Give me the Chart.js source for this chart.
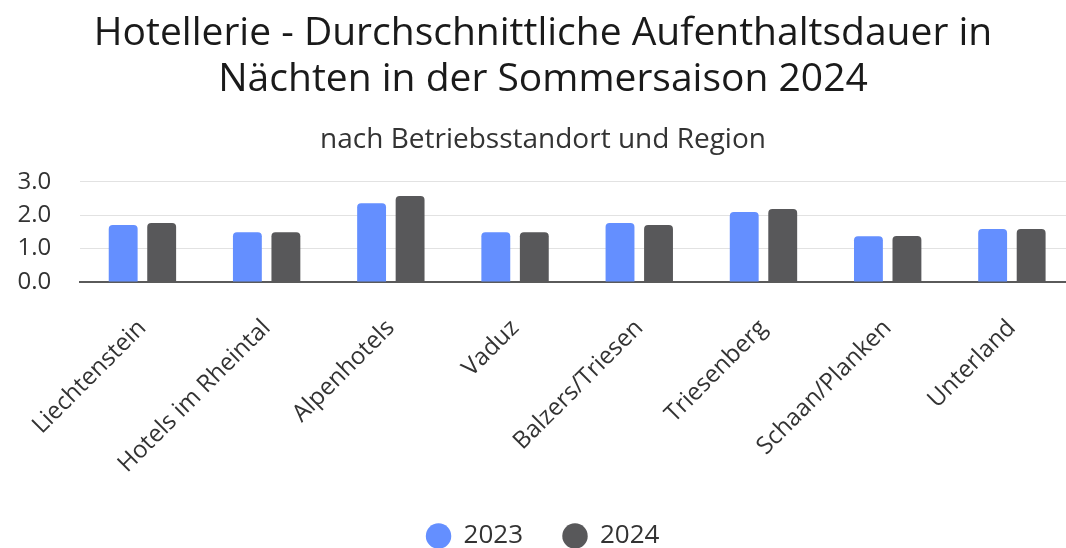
<!DOCTYPE html>
<html lang="de">
<head>
<meta charset="utf-8">
<script src="https://cdn.jsdelivr.net/npm/chart.js@4.4.1/dist/chart.umd.min.js"></script>
<style>
  html, body { margin: 0; padding: 0; overflow: hidden; background: #fff; }
  #wrap { position: absolute; left: 0; top: 0; width: 1086px; height: 548px; overflow: hidden; }
</style>
</head>
<body>
<div id="wrap"><canvas id="chart" width="1086" height="559"></canvas></div>
<script>
const categories = [
  "Liechtenstein",
  "Hotels im Rheintal",
  "Alpenhotels",
  "Vaduz",
  "Balzers/Triesen",
  "Triesenberg",
  "Schaan/Planken",
  "Unterland",
];

const values2023 = [1.71, 1.49, 2.36, 1.49, 1.77, 2.10, 1.37, 1.59];
const values2024 = [1.77, 1.49, 2.58, 1.49, 1.71, 2.19, 1.38, 1.59];

const yTicks = [0, 1, 2, 3];

const titleLines = [
  "Hotellerie - Durchschnittliche Aufenthaltsdauer in",
  "Nächten in der Sommersaison 2024",
];
const subtitleText = "nach Betriebsstandort und Region";

const FONT = "'Open Sans', sans-serif";

const ctx = document.getElementById("chart").getContext("2d");

const data = {
  labels: categories,
  datasets: [
    {
      label: "2023",
      data: values2023,
      backgroundColor: "#648fff",
      borderRadius: 4,
      borderSkipped: "start",
    },
    {
      label: "2024",
      data: values2024,
      backgroundColor: "#58585a",
      borderRadius: 4,
      borderSkipped: "start",
    },
  ],
};

const config = {
  type: "bar",
  data: data,
  options: {
    responsive: false,
    animation: false,
    categoryPercentage: 0.62,
    barPercentage: 0.75,
    layout: {
      padding: { top: 0, right: 12, bottom: 0, left: 12 },
    },
    plugins: {
      title: {
        display: true,
        text: titleLines,
        color: "#1a1a1a",
        font: { family: FONT, size: 39, weight: "normal", lineHeight: 1.17 },
        padding: { top: 11, bottom: 8 },
      },
      subtitle: {
        display: true,
        text: subtitleText,
        color: "#333",
        font: { family: FONT, size: 28, weight: "normal", lineHeight: 1.2 },
        padding: { top: 13, bottom: 25 },
      },
      legend: {
        position: "bottom",
        labels: {
          usePointStyle: true,
          pointStyle: "circle",
          boxWidth: 24,
          boxHeight: 18,
          padding: 40,
          color: "#333",
          font: { family: FONT, size: 26 },
        },
      },
      tooltip: { enabled: false },
    },
    scales: {
      x: {
        grid: { display: false, drawTicks: false },
        border: { display: true, color: "#5a5a5a", width: 2 },
        ticks: {
          color: "#333",
          font: { family: FONT, size: 24 },
          minRotation: 45,
          maxRotation: 45,
          padding: 32,
          autoSkip: false,
        },
        afterFit: (scale) => {
          scale.height = 201;
        },
      },
      y: {
        min: 0,
        max: 3,
        afterBuildTicks: (scale) => {
          scale.ticks = yTicks.map((v) => ({ value: v }));
        },
        grid: { color: "#e2e2e2", lineWidth: 1, drawTicks: false },
        border: { display: false },
        ticks: {
          color: "#333",
          font: { family: FONT, size: 24 },
          padding: 29,
          callback: function (value) {
            return value.toFixed(1);
          },
        },
        afterFit: (scale) => {
          scale.width = 66;
        },
      },
    },
  },
};

const myChart = new Chart(ctx, config);
</script>
</body>
</html>
